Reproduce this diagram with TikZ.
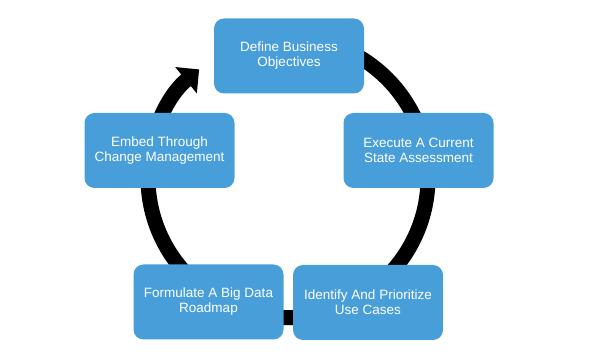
\documentclass[tikz,border=0pt]{standalone}
\usepackage{fontspec}
\setmainfont{Liberation Sans}
\usetikzlibrary{arrows.meta}

\definecolor{stepblue}{RGB}{72,158,216}

\begin{document}
\begin{tikzpicture}[x=1pt, y=1pt,
    stepbox/.style={fill=stepblue, text=white, rounded corners=10pt,
        minimum width=150pt, minimum height=75pt, align=center,
        font=\fontsize{13.5}{15}\selectfont}]
    \useasboundingbox (0,0) rectangle (600,353);

    % Tâm vòng tròn
    \coordinate (ring) at (288,175.4);

    % Vòng tròn có mũi tên
    \draw[line width=15pt, -{Triangle[length=17pt, width=33pt]}]
        ([shift={(90:140pt)}]ring) arc[start angle=90, end angle=-230.6, radius=140pt];

    % Các bước
    \node[stepbox] (define)    at (289,297)     {Define Business\\Objectives};
    \node[stepbox] (execute)   at (418.5,202.5) {Execute A Current\\State Assessment};
    \node[stepbox] (identify)  at (368,50.5)    {Identify And Prioritize\\Use Cases};
    \node[stepbox] (formulate) at (208.5,51)    {Formulate A Big Data\\Roadmap};
    \node[stepbox] (embed)     at (159.5,202.5) {Embed Through\\Change Management};
\end{tikzpicture}
\end{document}
